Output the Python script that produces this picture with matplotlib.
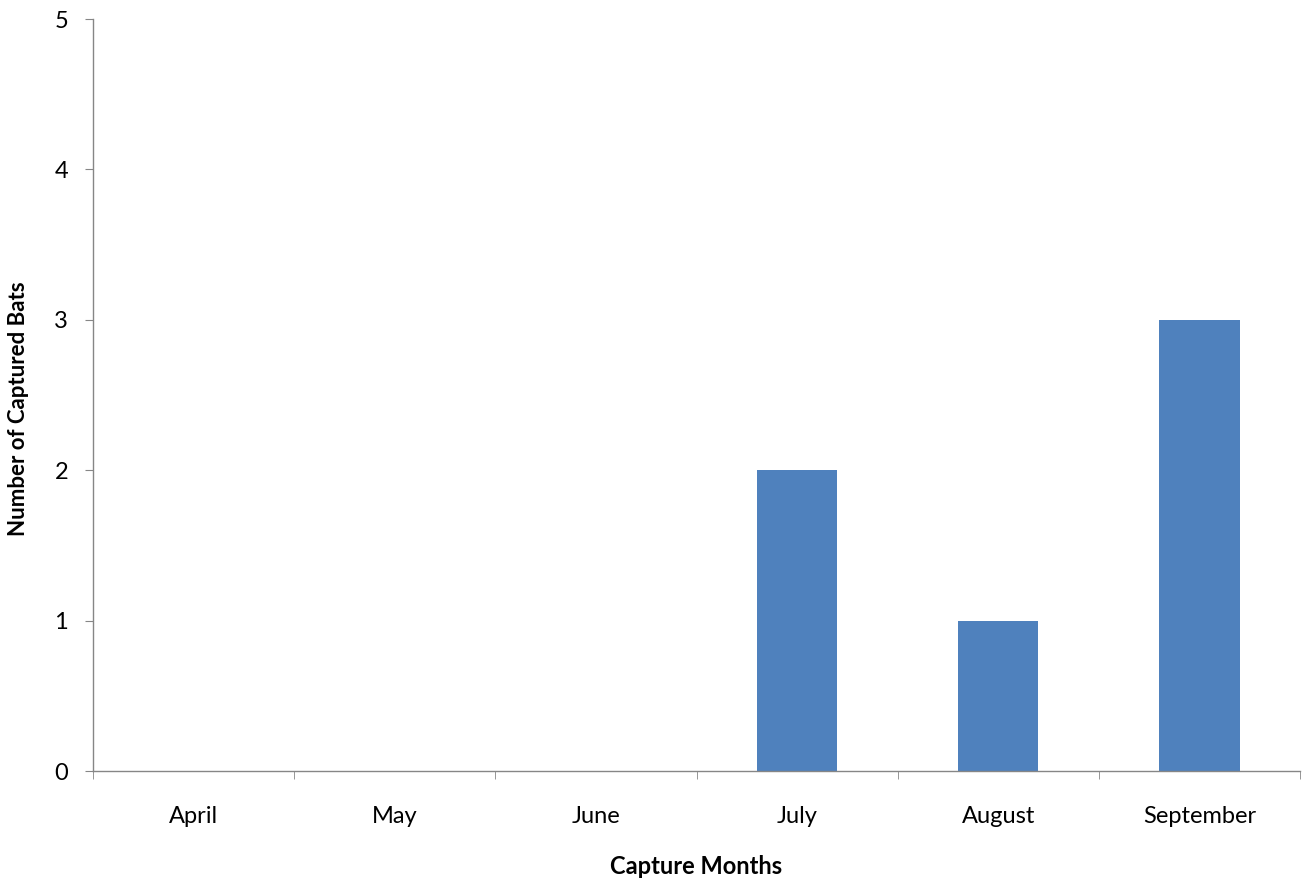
import matplotlib
matplotlib.use("Agg")
import matplotlib.pyplot as plt
import numpy as np

months = ["April", "May", "June", "July", "August", "September"]
captured = [0, 0, 0, 2, 1, 3]
y_ticks = [0, 1, 2, 3, 4, 5]

plt.rcParams['font.family'] = ['Lato', 'DejaVu Sans']

fig = plt.figure(figsize=(13.02, 8.84), dpi=100)
ax = fig.add_axes([93 / 1302, 1 - 771 / 884, (1300 - 93) / 1302, (771 - 19) / 884])

x = np.arange(len(months))
ax.bar(x, captured, width=0.4, color="#4F81BD", zorder=2)

ax.set_xlim(-0.5, len(months) - 0.5)
ax.set_ylim(0, 5)
ax.set_yticks(y_ticks)
ax.set_xticks(x)
ax.set_xticklabels(months, fontsize=17)
ax.set_xticks(np.arange(len(months) + 1) - 0.5, minor=True)
ax.tick_params(axis="x", which="major", length=0, pad=25)
ax.tick_params(axis="x", which="minor", length=6, direction="out", color="#868686")
ax.tick_params(axis="y", length=6, direction="out", color="#868686", labelsize=17, pad=12)

for side in ("top", "right"):
    ax.spines[side].set_visible(False)
for side in ("left", "bottom"):
    ax.spines[side].set_color("#868686")
    ax.spines[side].set_linewidth(1)

ax.set_xlabel("Capture Months", fontsize=17, fontweight="bold")
ax.set_ylabel("Number of Captured Bats", fontsize=16, fontweight="bold")
ax.xaxis.label.set_va("center")
ax.yaxis.label.set_va("center")
ax.xaxis.set_label_coords(0.5, (771 - 867) / 752)
ax.yaxis.set_label_coords((19 - 93) / 1207, (771 - 409) / 752)

fig.savefig("out.png", dpi=100)
